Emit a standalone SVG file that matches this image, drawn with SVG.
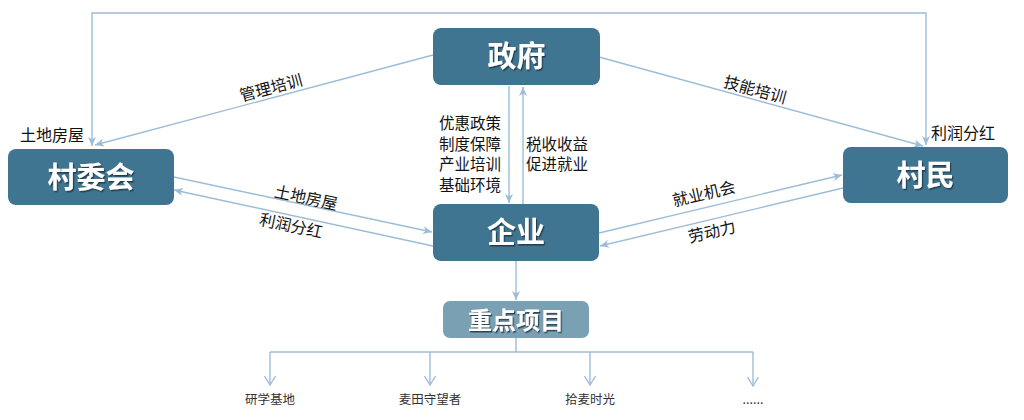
<svg xmlns="http://www.w3.org/2000/svg" width="1024" height="420" viewBox="0 0 1024 420">
<style>
.box{fill:#3f7591;}
.box2{fill:#7aa0b4;}
.title{font-family:"Noto Sans CJK SC","Noto Sans",sans-serif;font-weight:bold;fill:#ffffff;text-anchor:middle;}
.lbl{font-family:"Noto Sans CJK SC","Noto Sans",sans-serif;font-size:16px;fill:#111111;text-anchor:middle;}
.lbl2{font-family:"Noto Sans CJK SC","Noto Sans",sans-serif;font-size:15.5px;fill:#111111;}
.sm{font-family:"Noto Sans CJK SC","Noto Sans",sans-serif;font-size:12.5px;fill:#333333;text-anchor:middle;}
.ln{fill:none;stroke:#9dbcd8;stroke-width:1.4;}
</style>
<defs>
<marker id="ah" markerUnits="userSpaceOnUse" markerWidth="10" markerHeight="10" viewBox="0 0 10 10" refX="9" refY="5" orient="auto-start-reverse">
<path d="M0,1 L9,5 L0,9 L2.5,5 z" fill="#9dbcd8"/>
</marker>
<marker id="av" markerUnits="userSpaceOnUse" markerWidth="14" markerHeight="14" viewBox="0 0 14 14" refX="12" refY="7" orient="auto">
<path d="M3,1.5 L12,7 L3,12.5" fill="none" stroke="#9dbcd8" stroke-width="1.4"/>
</marker>
<filter id="sh" x="-20%" y="-20%" width="140%" height="140%">
<feDropShadow dx="1.2" dy="1.5" stdDeviation="0.6" flood-color="#1e3340" flood-opacity="0.8"/>
</filter>
</defs>

<g id="connectors">
<path class="ln" d="M92,146 V13 H926 V145" marker-start="url(#ah)" marker-end="url(#ah)"/>
<path class="ln" d="M433,55 L95,145" marker-end="url(#ah)"/>
<path class="ln" d="M599,57 L923,146" marker-end="url(#ah)"/>
<path class="ln" d="M174,177 L432,232" marker-end="url(#ah)"/>
<path class="ln" d="M433,246 L174,190" marker-end="url(#ah)"/>
<path class="ln" d="M599,233 L842,175" marker-end="url(#ah)"/>
<path class="ln" d="M843,188 L600,246" marker-end="url(#ah)"/>
<path class="ln" d="M509,86 V203" marker-end="url(#ah)"/>
<path class="ln" d="M523,204 V87" marker-end="url(#ah)"/>
<path class="ln" d="M516,261 V300" marker-end="url(#ah)"/>
<path class="ln" d="M516,338 V352 M270,352 H753"/>
<path class="ln" d="M270,352 V385" marker-end="url(#av)"/>
<path class="ln" d="M430,352 V385" marker-end="url(#av)"/>
<path class="ln" d="M590,352 V385" marker-end="url(#av)"/>
<path class="ln" d="M753,352 V386" marker-end="url(#av)"/>
<text class="lbl" transform="translate(271,88) rotate(-15)" y="5.5">管理培训</text>
<text class="lbl" transform="translate(755,90) rotate(15.4)" y="5.5">技能培训</text>
<text class="lbl" transform="translate(306,198) rotate(12)" y="5.5">土地房屋</text>
<text class="lbl" transform="translate(291,226) rotate(12)" y="5.5">利润分红</text>
<text class="lbl" transform="translate(704,194) rotate(-13)" y="5.5">就业机会</text>
<text class="lbl" transform="translate(712,232) rotate(-13)" y="5.5">劳动力</text>
<text class="lbl" x="52" y="141">土地房屋</text>
<text class="lbl" x="963" y="139">利润分红</text>
<text class="lbl2" x="439" y="128.5">优惠政策</text>
<text class="lbl2" x="439" y="149.5">制度保障</text>
<text class="lbl2" x="439" y="170">产业培训</text>
<text class="lbl2" x="439" y="191">基础环境</text>
<text class="lbl2" x="526" y="149.5">税收收益</text>
<text class="lbl2" x="526" y="170">促进就业</text>
</g>

<g id="node-gov">
<rect class="box" x="433" y="28" width="167" height="57" rx="8"/>
<text class="title" x="516.5" y="67" font-size="29" filter="url(#sh)">政府</text>
</g>
<g id="node-village-committee">
<rect class="box" x="8" y="149" width="166" height="56" rx="8"/>
<text class="title" x="91" y="188" font-size="29" filter="url(#sh)">村委会</text>
</g>
<g id="node-enterprise">
<rect class="box" x="433" y="204" width="166" height="57" rx="8"/>
<text class="title" x="516" y="243" font-size="29" filter="url(#sh)">企业</text>
</g>
<g id="node-villagers">
<rect class="box" x="843" y="147" width="165" height="56" rx="8"/>
<text class="title" x="925.5" y="186" font-size="29" filter="url(#sh)">村民</text>
</g>
<g id="node-projects">
<rect class="box2" x="443" y="301" width="146" height="37" rx="7"/>
<text class="title" x="516" y="328.5" font-size="24" filter="url(#sh)">重点项目</text>
</g>
<g id="project-items">
<text class="sm" x="270" y="404">研学基地</text>
<text class="sm" x="430" y="404">麦田守望者</text>
<text class="sm" x="590" y="404">拾麦时光</text>
<text class="sm" x="753" y="404">......</text>
</g>
</svg>
